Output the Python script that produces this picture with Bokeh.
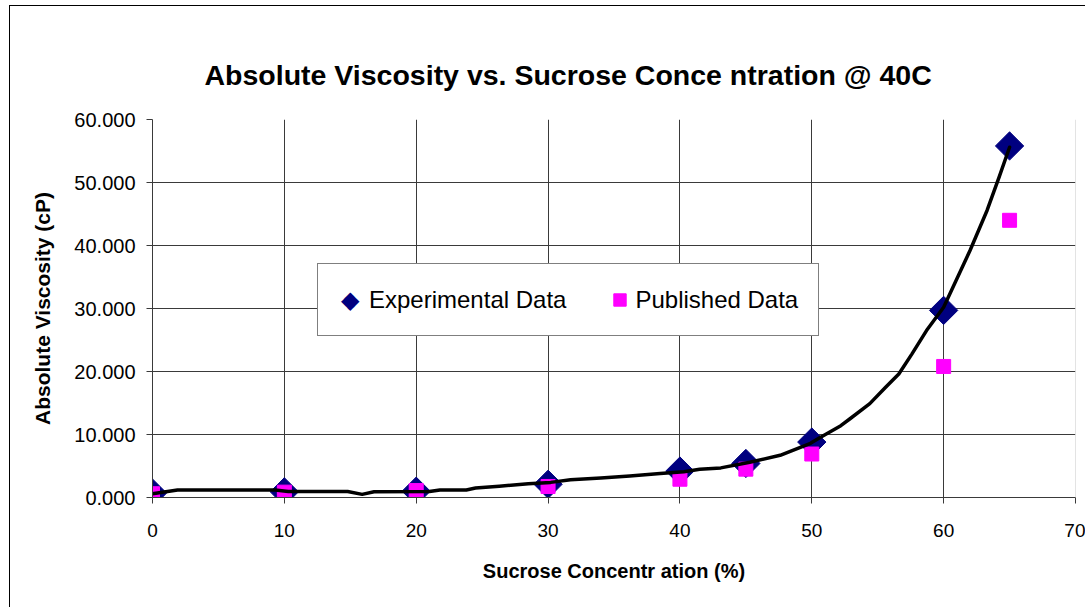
import math
from bokeh.plotting import figure
from bokeh.models import (FixedTicker, NumeralTickFormatter, Legend, LegendItem,
                          Span, ColumnDataSource)
from bokeh.embed import file_html
from bokeh.resources import INLINE

# ---- data ----
conc_exp = [0, 10, 20, 30, 40, 45, 50, 60, 65]
visc_exp = [0.7, 0.9, 1.0, 2.1, 4.2, 5.4, 8.8, 29.7, 55.8]

conc_pub = [0, 10, 20, 30, 40, 45, 50, 60, 65]
visc_pub = [0.6, 0.85, 1.1, 1.75, 2.9, 4.5, 6.9, 20.8, 44.0]

fit_conc = [0, 1.9, 9.3, 10.3, 14.8, 15.9, 16.8, 21.0, 21.8, 23.8, 24.5, 26.3,
            28.5, 30.2, 31.7, 34.0, 36.2, 38.5, 40.3, 41.5, 43.1, 45.3, 47.6,
            49.9, 50.6, 52.2, 52.9, 54.4, 55.6, 56.6, 57.6, 58.7, 60.0, 62.0,
            63.3, 64.2, 65.0]
fit_visc = [0.6, 1.2, 1.2, 0.95, 0.95, 0.5, 0.9, 0.95, 1.2, 1.2, 1.5, 1.8,
            2.2, 2.4, 2.8, 3.1, 3.4, 3.8, 4.1, 4.5, 4.7, 5.6, 6.7,
            8.6, 9.5, 11.4, 12.5, 14.9, 17.5, 19.6, 22.8, 26.5, 30.2, 39.2,
            45.6, 50.8, 55.6]

x_ticks = [0, 10, 20, 30, 40, 50, 60, 70]
y_ticks = [0, 10, 20, 30, 40, 50, 60]
y_grid_ticks = [10, 20, 30, 40, 50]
x_grid_ticks = [10, 20, 30, 40, 50, 60]

title_text = "Absolute Viscosity vs. Sucrose Conce ntration @ 40C"
x_label = "Sucrose Concentr ation (%)"
y_label = "Absolute Viscosity (cP)"
legend_exp = "Experimental Data"
legend_pub = "Published Data"
diamond_key = "\u25c6"

FONT = "Liberation Sans"
GRID = "#3a3a3a"
NAVY = "#000080"
MAGENTA = "#ff00ff"

p = figure(width=1076, height=602, output_backend="svg", toolbar_location=None,
           x_range=(x_ticks[0], x_ticks[-1]), y_range=(y_ticks[0], y_ticks[-1]),
           min_border_left=142, min_border_right=11, min_border_top=113,
           min_border_bottom=111)
p.styles = {"margin-left": "9px", "margin-top": "5px",
            "border-left": "1px solid black", "border-top": "1px solid black"}
p.outline_line_color = None
p.background_fill_color = "white"
p.border_fill_color = "white"

# title
p.title.text = title_text
p.title.text_font = FONT
p.title.text_font_style = "bold"
p.title.text_font_size = "28.5px"
p.title.align = "left"
p.title.offset = 52
p.title.standoff = 57
p.title.text_color = "black"

# axes
for ax in (p.xaxis[0], p.yaxis[0]):
    ax.axis_line_color = GRID
    ax.major_tick_line_color = GRID
    ax.major_tick_out = 6
    ax.major_tick_in = 0
    ax.minor_tick_line_color = None
    ax.major_label_text_font = FONT
    ax.major_label_text_color = "black"
    ax.axis_label_text_font = FONT
    ax.axis_label_text_font_style = "bold"
    ax.axis_label_text_color = "black"

p.xaxis.ticker = FixedTicker(ticks=x_ticks)
p.yaxis.ticker = FixedTicker(ticks=y_ticks)
p.yaxis.formatter = NumeralTickFormatter(format="0.000")
p.xaxis.axis_label = x_label
p.yaxis.axis_label = y_label
p.xaxis.major_label_text_font_size = "19px"
p.yaxis.major_label_text_font_size = "20px"
p.xaxis.axis_label_text_font_size = "20px"
p.yaxis.axis_label_text_font_size = "21px"
p.xaxis.major_label_standoff = 20
p.xaxis.axis_label_standoff = 20
p.yaxis.major_label_standoff = 11
p.yaxis.axis_label_standoff = 17

# grids
p.xgrid.ticker = FixedTicker(ticks=x_grid_ticks)
p.ygrid.ticker = FixedTicker(ticks=y_grid_ticks)
p.xgrid.grid_line_color = GRID
p.ygrid.grid_line_color = GRID

# right plot-area border (light)
p.add_layout(Span(location=x_ticks[-1], dimension="height",
                  line_color="#c8c8c8", line_width=1))

src_exp = ColumnDataSource(dict(x=conc_exp, y=visc_exp))
src_pub = ColumnDataSource(dict(x=conc_pub, y=visc_pub))
src_fit = ColumnDataSource(dict(x=fit_conc, y=fit_visc))

r_exp = p.scatter("x", "y", source=src_exp, marker="square", size=20,
                  angle=math.pi / 4, fill_color=NAVY, line_color=NAVY)
r_pub = p.scatter("x", "y", source=src_pub, marker="square", size=14,
                  fill_color=MAGENTA, line_color=MAGENTA)
p.line("x", "y", source=src_fit, line_color="black", line_width=3.5,
       line_join="round", line_cap="round")

# legend-only placeholder renderer (the diamond key is drawn as a text key)
r_key = p.scatter(x=[], y=[], marker="square", size=1, fill_alpha=0, line_alpha=0)

legend = Legend(items=[LegendItem(label=legend_exp, renderers=[r_key]),
                       LegendItem(label=legend_pub, renderers=[r_pub])],
                orientation="horizontal", location=(165, 161))
legend.glyph_width = 31
legend.glyph_height = 31
legend.label_height = 31
legend.padding = 20
legend.spacing = 38
legend.label_standoff = 0
legend.label_text_font = FONT
legend.label_text_font_size = "24px"
legend.label_text_color = "black"
legend.border_line_color = "black"
legend.border_line_width = 1
legend.background_fill_color = "white"
legend.background_fill_alpha = 1
p.add_layout(legend, "center")

# navy diamond key of the "Experimental Data" entry
key = Legend(items=[LegendItem(label=diamond_key, renderers=[r_key])],
             orientation="horizontal", location=(189, 182))
key.glyph_width = 0
key.glyph_height = 30
key.label_height = 30
key.padding = 0
key.margin = 0
key.label_standoff = 0
key.label_text_font = "DejaVu Sans"
key.label_text_font_size = "24px"
key.label_text_color = NAVY
key.border_line_color = None
key.background_fill_alpha = 0
p.add_layout(key, "center")

open("out.html", "w").write(file_html(p, INLINE))
